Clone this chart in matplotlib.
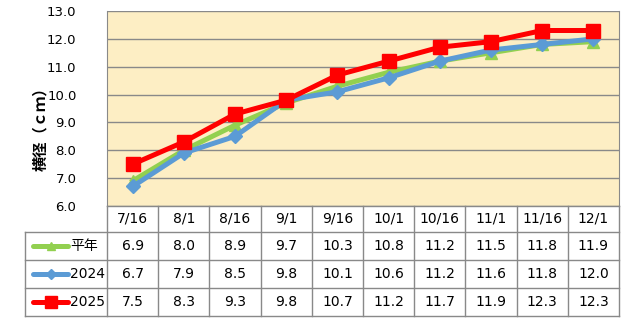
import numpy as np
import matplotlib.pyplot as plt
from matplotlib.lines import Line2D

plt.rcParams["font.family"] = ["DejaVu Sans", "Noto Sans CJK JP"]

dates = ["7/16", "8/1", "8/16", "9/1", "9/16", "10/1", "10/16", "11/1", "11/16", "12/1"]
normal = [6.9, 8.0, 8.9, 9.7, 10.3, 10.8, 11.2, 11.5, 11.8, 11.9]
y2024 = [6.7, 7.9, 8.5, 9.8, 10.1, 10.6, 11.2, 11.6, 11.8, 12.0]
y2025 = [7.5, 8.3, 9.3, 9.8, 10.7, 11.2, 11.7, 11.9, 12.3, 12.3]

series = [
    ("平年", normal, "#92D050", "^", 8),
    ("2024", y2024, "#5B9BD5", "D", 7),
    ("2025", y2025, "#FF0000", "s", 10),
]

W, H = 639, 326
grid_c = "#898989"
fig = plt.figure(figsize=(W / 100, H / 100), dpi=100)

# plot area in pixel terms
left, right, top, bottom = 107, 619, 11, 206
ax = fig.add_axes([left / W, 1 - bottom / H, (right - left) / W, (bottom - top) / H])
ax.set_facecolor("#FDEEC4")
x = np.arange(len(dates))
for name, vals, col, mk, ms in series:
    ax.plot(x, vals, color=col, lw=3.6, marker=mk, ms=ms, mec=col, mfc=col, zorder=3)

ax.set_xlim(-0.5, len(dates) - 0.5)
ax.set_ylim(6.0, 13.0)
ax.set_yticks(np.arange(6, 13.01, 1.0))
ax.set_yticklabels([f"{v:.1f}" for v in np.arange(6, 13.01, 1.0)], fontsize=9.5)
ax.tick_params(axis="y", length=0, pad=22)
ax.set_xticks([])
ax.grid(axis="y", color=grid_c, lw=1)
ax.set_axisbelow(True)
for s in ["left", "right"]:
    ax.spines[s].set_color(grid_c)
ax.spines["top"].set_visible(False)
ax.spines["bottom"].set_visible(False)

fig.text(40 / W, 1 - 125 / H, "横径（ｃｍ）", rotation=90, ha="center", va="center",
         fontsize=11, fontweight="bold", family=["Noto Sans CJK JP", "DejaVu Sans"])

# data table under the plot
t_left, t_bottom = 25, 316
unit = (right - left) / len(dates)
x0 = -0.5 - (left - t_left) / unit
tax = fig.add_axes([t_left / W, 1 - t_bottom / H, (right - t_left) / W, (t_bottom - bottom) / H])
tax.set_xlim(x0, len(dates) - 0.5)
rows = [0, 26, 54, 82, 110]
tax.set_ylim(rows[-1], 0)
tax.axis("off")

lk = dict(color=grid_c, lw=1, clip_on=False)
tax.plot([-0.5, len(dates) - 0.5], [rows[0], rows[0]], **lk)
for r in rows[1:]:
    tax.plot([x0, len(dates) - 0.5], [r, r], **lk)
for i in range(len(dates) + 1):
    tax.plot([i - 0.5, i - 0.5], [rows[0], rows[-1]], **lk)
tax.plot([x0, x0], [rows[1], rows[-1]], **lk)

for i, d in enumerate(dates):
    tax.text(i, (rows[0] + rows[1]) / 2, d, ha="center", va="center", fontsize=10)

for j, (name, vals, col, mk, ms) in enumerate(series):
    yc = (rows[j + 1] + rows[j + 2]) / 2
    for i, v in enumerate(vals):
        tax.text(i, yc, f"{v:.1f}", ha="center", va="center", fontsize=10)
    kx0 = x0 + 8 / unit
    kx1 = x0 + 43 / unit
    tax.add_line(Line2D([kx0, kx1], [yc, yc], color=col, lw=3.6, solid_capstyle="round"))
    tax.plot([(kx0 + kx1) / 2], [yc], marker=mk, ms=ms * 0.8, color=col, mec=col)
    tax.text(x0 + 45 / unit, yc, name, ha="left", va="center", fontsize=10)

fig.savefig("out.png", dpi=100)
